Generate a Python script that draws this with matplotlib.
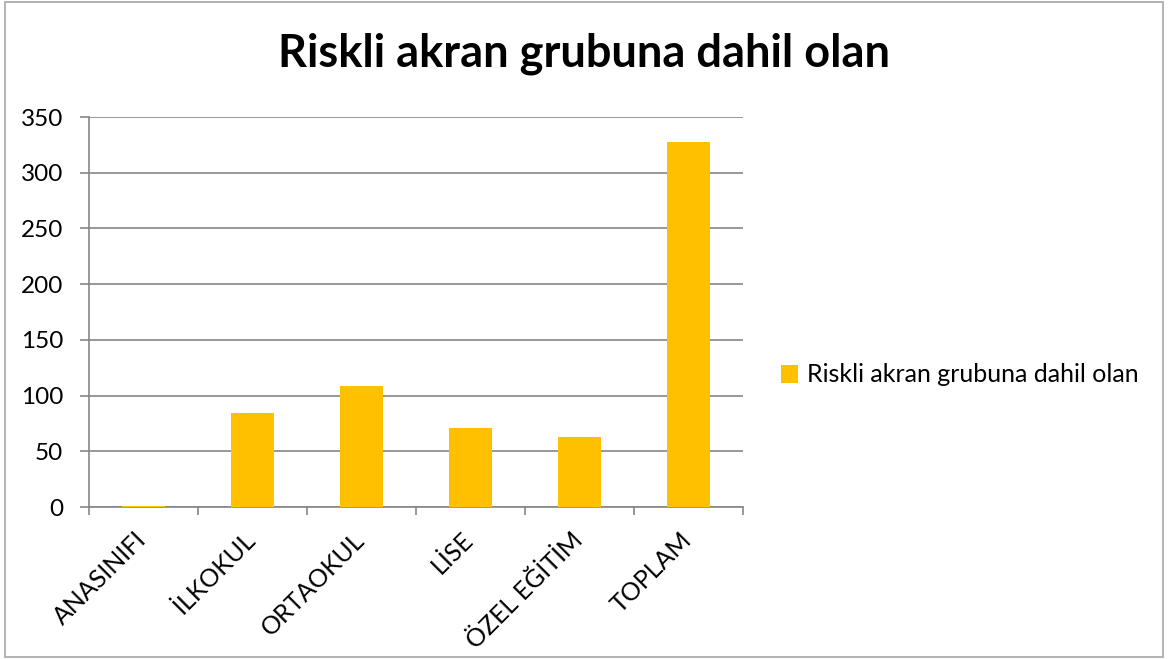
import matplotlib
matplotlib.use("Agg")
import matplotlib.pyplot as plt
import matplotlib.transforms as mtransforms
from matplotlib.patches import Rectangle
import numpy as np

categories = ["ANASINIFI", "İLKOKUL", "ORTAOKUL", "LİSE", "ÖZEL EĞİTİM", "TOPLAM"]
values = [1, 84, 109, 71, 63, 328]
series_name = "Riskli akran grubuna dahil olan"
yticks = [0, 50, 100, 150, 200, 250, 300, 350]

plt.rcParams['font.family'] = ['Lato', 'DejaVu Sans']

fig = plt.figure(figsize=(11.68, 6.59), dpi=100)
fig.patches.append(Rectangle((0.004, 0.003), 0.992, 0.994, transform=fig.transFigure,
                             fill=False, edgecolor='#a6a6a6', linewidth=1.2))
ax = fig.add_axes([89/1168, 1-507/659, (743-89)/1168, (507-117)/659])

x = np.arange(len(categories))
ax.bar(x, values, width=0.4, color='#FFC000', label=series_name, zorder=3)

ax.set_xlim(-0.5, len(categories) - 0.5)
ax.set_ylim(0, 350)
ax.set_yticks(yticks)
ax.set_yticklabels([str(v) for v in yticks], fontsize=17.5)
ax.yaxis.grid(True, color='#868686', linewidth=1.2, zorder=0)
ax.set_axisbelow(True)

ax.set_xticks(x)
ax.set_xticklabels(categories, rotation=45, ha='right', rotation_mode='anchor', fontsize=18)
ax.tick_params(axis='x', length=0, pad=15)
offset = mtransforms.ScaledTranslation(-9/100, 0, fig.dpi_scale_trans)
for lbl in ax.get_xticklabels():
    lbl.set_transform(lbl.get_transform() + offset)
ax.set_xticks(np.arange(-0.5, len(categories)), minor=True)
ax.tick_params(axis='x', which='minor', length=6, color='#868686', width=1.2)
ax.tick_params(axis='y', length=6.5, color='#868686', width=1.2, pad=12)

for s in ['top', 'right']:
    ax.spines[s].set_visible(False)
for s in ['left', 'bottom']:
    ax.spines[s].set_color('#868686')
    ax.spines[s].set_linewidth(1.2)

fig.suptitle("Riskli akran grubuna dahil olan", fontsize=32.5, fontweight='bold', y=0.95)

leg = fig.legend(loc='center left', bbox_to_anchor=(758/1168, 1-375/659), frameon=False,
                 fontsize=18, handlelength=0.7, handleheight=0.7, handletextpad=0.35)

fig.savefig("out.png", dpi=100)
